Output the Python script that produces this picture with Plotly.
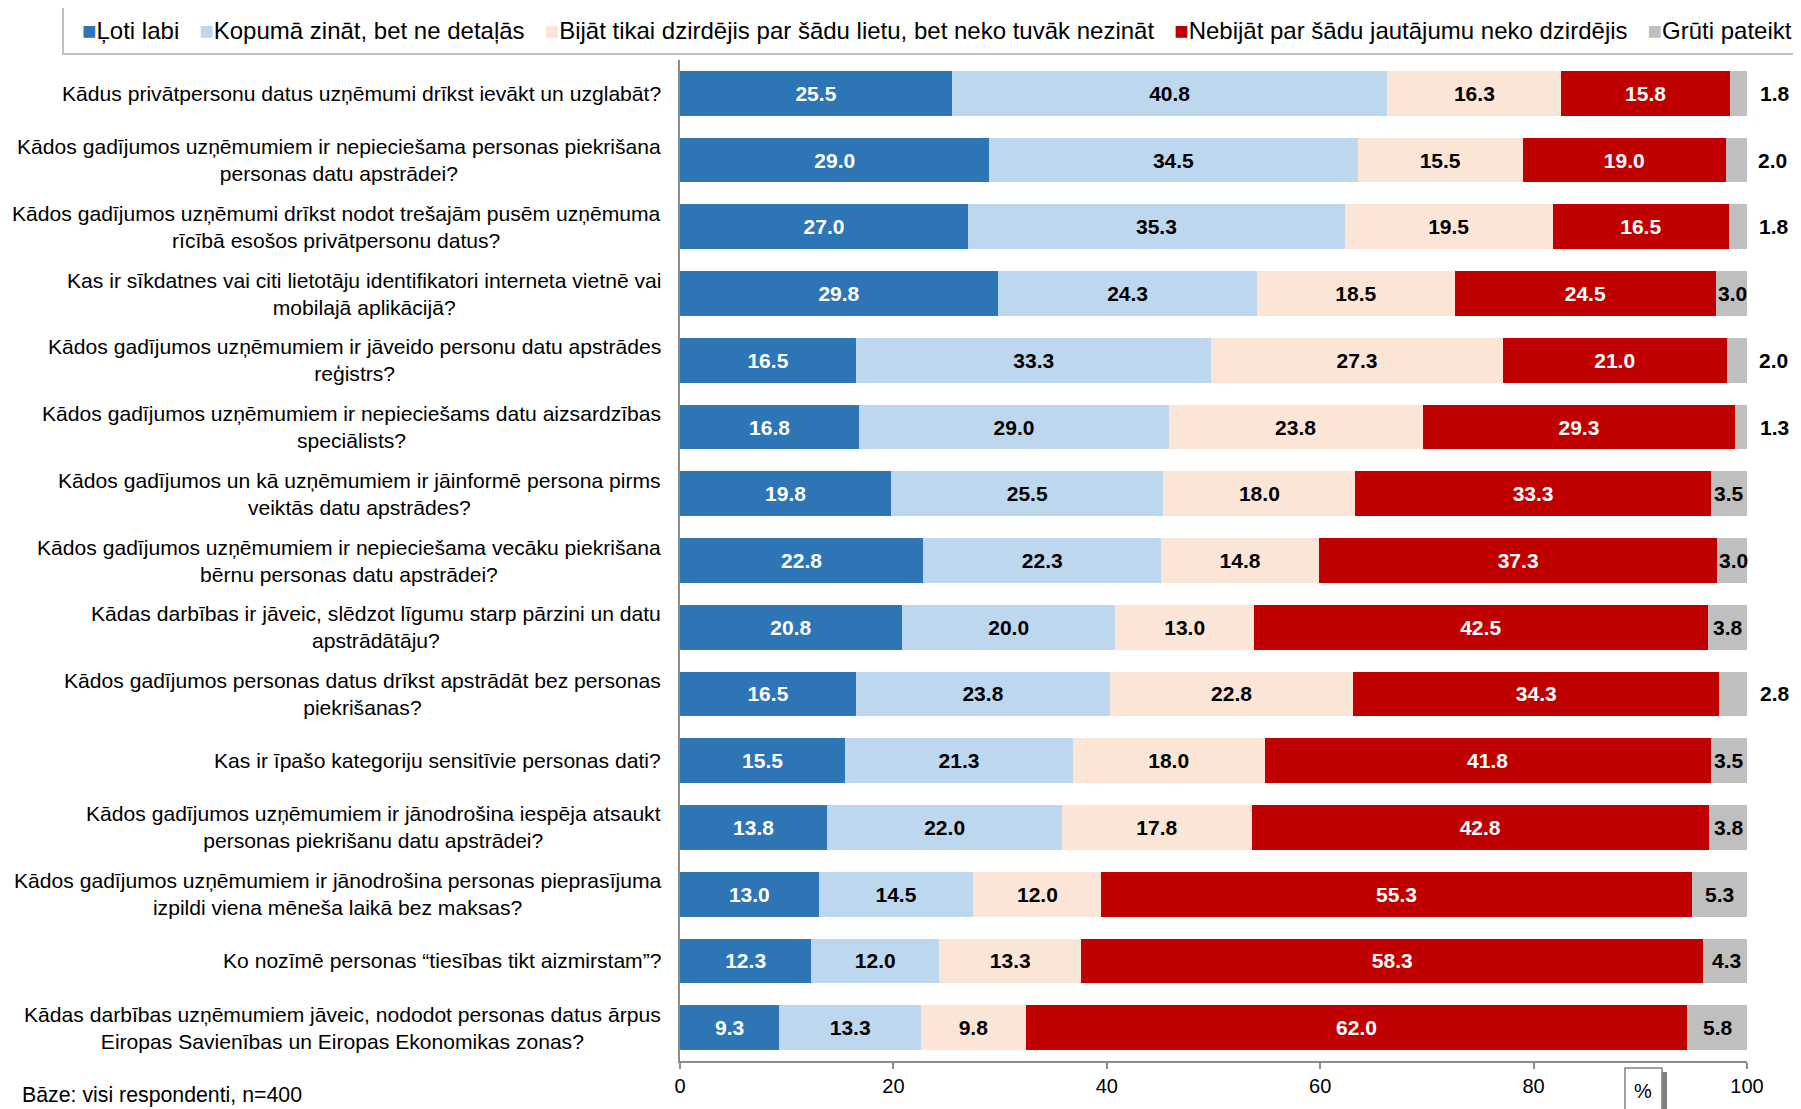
import plotly.graph_objects as go

FONT = "Liberation Sans, Arial, sans-serif"

questions = [
    "Kādus privātpersonu datus uzņēmumi drīkst ievākt un uzglabāt?",
    "Kādos gadījumos uzņēmumiem ir nepieciešama personas piekrišana<br>personas datu apstrādei?",
    "Kādos gadījumos uzņēmumi drīkst nodot trešajām pusēm uzņēmuma<br>rīcībā esošos privātpersonu datus?",
    "Kas ir sīkdatnes vai citi lietotāju identifikatori interneta vietnē vai<br>mobilajā aplikācijā?",
    "Kādos gadījumos uzņēmumiem ir jāveido personu datu apstrādes<br>reģistrs?",
    "Kādos gadījumos uzņēmumiem ir nepieciešams datu aizsardzības<br>speciālists?",
    "Kādos gadījumos un kā uzņēmumiem ir jāinformē persona pirms<br>veiktās datu apstrādes?",
    "Kādos gadījumos uzņēmumiem ir nepieciešama vecāku piekrišana<br>bērnu personas datu apstrādei?",
    "Kādas darbības ir jāveic, slēdzot līgumu starp pārzini un datu<br>apstrādātāju?",
    "Kādos gadījumos personas datus drīkst apstrādāt bez personas<br>piekrišanas?",
    "Kas ir īpašo kategoriju sensitīvie personas dati?",
    "Kādos gadījumos uzņēmumiem ir jānodrošina iespēja atsaukt<br>personas piekrišanu datu apstrādei?",
    "Kādos gadījumos uzņēmumiem ir jānodrošina personas pieprasījuma<br>izpildi viena mēneša laikā bez maksas?",
    "Ko nozīmē personas “tiesības tikt aizmirstam”?",
    "Kādas darbības uzņēmumiem jāveic, nododot personas datus ārpus<br>Eiropas Savienības un Eiropas Ekonomikas zonas?",
]

loti_labi = [25.5, 29.0, 27.0, 29.8, 16.5, 16.8, 19.8, 22.8, 20.8, 16.5, 15.5, 13.8, 13.0, 12.3, 9.3]
kopuma    = [40.8, 34.5, 35.3, 24.3, 33.3, 29.0, 25.5, 22.3, 20.0, 23.8, 21.3, 22.0, 14.5, 12.0, 13.3]
dzirdejis = [16.3, 15.5, 19.5, 18.5, 27.3, 23.8, 18.0, 14.8, 13.0, 22.8, 18.0, 17.8, 12.0, 13.3, 9.8]
nebijat   = [15.8, 19.0, 16.5, 24.5, 21.0, 29.3, 33.3, 37.3, 42.5, 34.3, 41.8, 42.8, 55.3, 58.3, 62.0]
gruti     = [1.8, 2.0, 1.8, 3.0, 2.0, 1.3, 3.5, 3.0, 3.8, 2.8, 3.5, 3.8, 5.3, 4.3, 5.8]

series_names = [
    "Ļoti labi",
    "Kopumā zināt, bet ne detaļās",
    "Bijāt tikai dzirdējis par šādu lietu, bet neko tuvāk nezināt",
    "Nebijāt par šādu jautājumu neko dzirdējis",
    "Grūti pateikt",
]
colors = ["#2E75B6", "#BDD7EE", "#FBE5D6", "#C00000", "#BFBFBF"]
text_colors = ["white", "black", "black", "white", "black"]
x_ticks = [0, 20, 40, 60, 80, 100]
X_RANGE = [0, 100]

# the page puts the plot 8px in from the top-left corner (body margin)
OFF = 8
W, H = 1801 - OFF, 1109 - OFF
ML, MR, MT, MB = 680 - OFF, 54, 60 - OFF, 46
PW, PH = W - ML - MR, H - MT - MB

def px_x(px):  # page pixel -> paper x
    return (px - OFF - ML) / PW

def px_y(py):  # page pixel -> paper y
    return (H - MB - (py - OFF)) / PH

def dom_x(v):  # data value -> fraction of the x domain
    return (v - X_RANGE[0]) / (X_RANGE[1] - X_RANGE[0])

ids = list(range(len(questions)))
all_series = [loti_labi, kopuma, dzirdejis, nebijat, gruti]

fig = go.Figure()
for name, vals, col, tcol in zip(series_names, all_series, colors, text_colors):
    is_gray = name == "Grūti pateikt"
    fig.add_trace(go.Bar(
        y=ids, x=vals, name=name, orientation="h",
        marker=dict(color=col, line=dict(width=0)),
        text=None if is_gray else [f"{v:.1f}" for v in vals],
        textposition="inside", textangle=0, constraintext="none",
        insidetextanchor="middle",
        insidetextfont=dict(color=tcol, size=21, family=FONT, weight="bold"),
        cliponaxis=False, showlegend=False,
    ))

annotations = []

# labels of the "Grūti pateikt" segment: inside when wide enough, else right of the bar
for i in ids:
    start = sum(s[i] for s in all_series[:4])
    v = gruti[i]
    gx = start + v / 2 if v >= 3 else start + v + 2.4
    annotations.append(dict(
        x=dom_x(gx), xref="x domain", y=i, yref="y", xanchor="center", yanchor="middle",
        text=f"{v:.1f}", showarrow=False,
        font=dict(size=21, color="black", family=FONT, weight="bold"),
    ))

for i, q in enumerate(questions):
    annotations.append(dict(
        x=0, xref="paper", y=i, yref="y", xanchor="right", yanchor="middle",
        xshift=-17, text=q, align="center", showarrow=False,
        font=dict(size=21.1, color="black", family=FONT),
    ))

GAP = "\u00a0" * 3
legend_text = GAP.join(
    f'<span style="color:{c}">■</span>{n}' for n, c in zip(series_names, colors)
)
annotations.append(dict(
    x=px_x(80), xref="paper", y=px_y(30), yref="paper", xanchor="left", yanchor="middle",
    text=legend_text, showarrow=False, align="left",
    font=dict(size=24, color="black", family=FONT),
))
annotations.append(dict(
    x=px_x(20), xref="paper", y=px_y(1097), yref="paper", xanchor="left", yanchor="middle",
    text="Bāze: visi respondenti, n=400", showarrow=False,
    font=dict(size=21.3, color="black", family=FONT),
))
annotations.append(dict(
    x=px_x(1643), xref="paper", y=px_y(1093), yref="paper", xanchor="center", yanchor="middle",
    text="%", showarrow=False,
    font=dict(size=20, color="black", family=FONT),
))

shapes = [
    # legend frame
    dict(type="rect", xref="paper", yref="paper", x0=px_x(63), x1=px_x(1815), y0=px_y(6), y1=px_y(54),
         line=dict(color="#BFBFBF", width=2), fillcolor="rgba(0,0,0,0)", layer="below"),
    # % box shadow + box
    dict(type="rect", xref="paper", yref="paper", x0=px_x(1629), x1=px_x(1667), y0=px_y(1074), y1=px_y(1115),
         line=dict(width=0), fillcolor="#808080"),
    dict(type="rect", xref="paper", yref="paper", x0=px_x(1625), x1=px_x(1662), y0=px_y(1070), y1=px_y(1115),
         line=dict(color="#808080", width=1.5), fillcolor="white"),
]

fig.update_layout(
    width=W, height=H,
    barmode="stack", bargap=0.33,
    margin=dict(l=ML, r=MR, t=MT, b=MB),
    paper_bgcolor="white", plot_bgcolor="white",
    font=dict(family=FONT, size=20, color="black"),
    annotations=annotations, shapes=shapes,
    xaxis=dict(range=X_RANGE, tickvals=x_ticks, showgrid=False, zeroline=False,
               showline=True, linecolor="#8C8C8C", linewidth=1.5,
               ticks="outside", ticklen=6, tickcolor="#8C8C8C", tickwidth=1.5,
               tickfont=dict(size=20, family=FONT, color="black")),
    yaxis=dict(range=[len(ids) - 0.5, -0.5], showticklabels=False, showgrid=False, zeroline=False,
               showline=True, linecolor="#8C8C8C", linewidth=1.5, ticks=""),
)

fig.write_html("out.html")
